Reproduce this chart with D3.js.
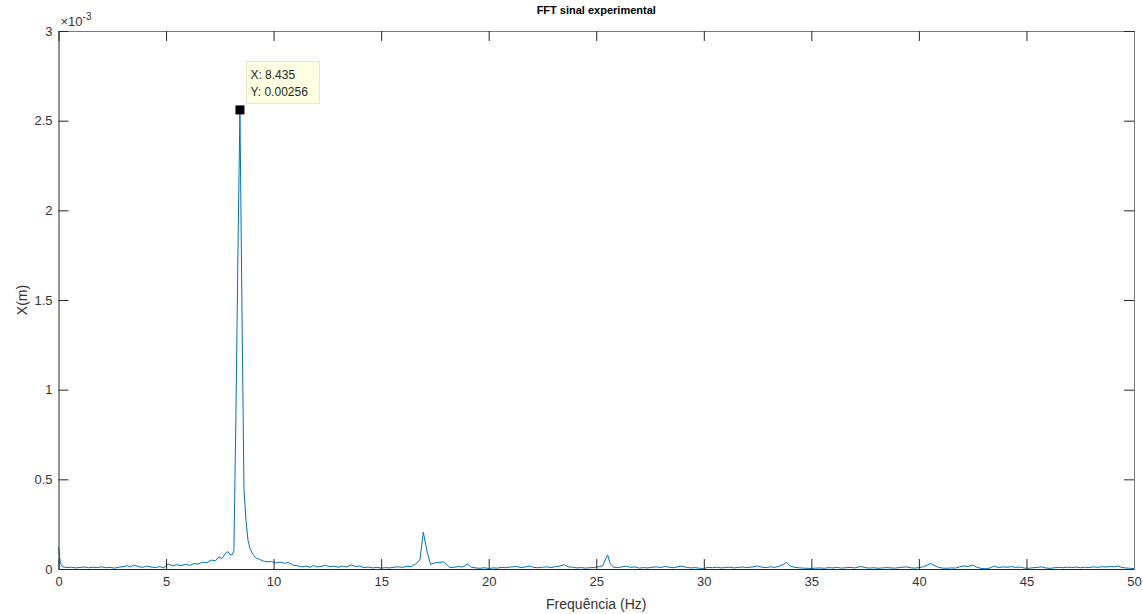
<!DOCTYPE html>
<html>
<head>
<meta charset="utf-8">
<script src="https://cdn.jsdelivr.net/npm/d3@7"></script>
<style>
  body { margin: 0; background: #fff; }
  svg { display: block; font-family: "Liberation Sans", Arial, sans-serif; }
</style>
</head>
<body>
<svg id="chart" width="1143" height="614"></svg>
<script>
// frequency (Hz) and amplitude (x 1e-3 m)
var freq = [0, 0.09, 0.19, 0.4, 0.6, 0.8, 1.0, 1.2, 1.4, 1.6, 1.8, 2.0, 2.2, 2.4, 2.6, 2.8, 3.0, 3.2, 3.35, 3.5, 3.7, 3.9,
  4.1, 4.3, 4.5, 4.7, 4.9, 5.1, 5.3, 5.5, 5.7, 5.9, 6.1, 6.3, 6.5, 6.7, 6.9, 7.1, 7.3, 7.45, 7.6, 7.75, 7.88, 7.97,
  8.06, 8.154, 8.247, 8.341, 8.435, 8.529, 8.622, 8.716, 8.81, 8.9, 9.0, 9.1, 9.2, 9.35, 9.5, 9.7, 9.9, 10.1, 10.3,
  10.5, 10.7, 10.9, 11.1, 11.3, 11.5, 11.7, 11.85, 12.0, 12.2, 12.4, 12.6, 12.8, 13.0, 13.2, 13.4, 13.6, 13.8, 14.0,
  14.2, 14.4, 14.6, 14.8, 15.0, 15.2, 15.4, 15.6, 15.8, 16.0, 16.2, 16.4, 16.6, 16.8, 16.96, 17.15, 17.3, 17.5, 17.7,
  17.9, 18.05, 18.2, 18.4, 18.6, 18.8, 19.0, 19.2, 19.4, 19.6, 19.8, 20.0, 20.2, 20.4, 20.6, 20.8, 21.0, 21.3, 21.5,
  21.7, 21.9, 22.1, 22.3, 22.5, 22.7, 22.9, 23.1, 23.3, 23.5, 23.7, 23.9, 24.1, 24.3, 24.5, 24.7, 24.9, 25.1, 25.3,
  25.45, 25.53, 25.65, 25.8, 26.0, 26.2, 26.4, 26.6, 26.8, 27.0, 27.2, 27.4, 27.6, 27.8, 28.0, 28.2, 28.4, 28.6,
  28.8, 29.0, 29.2, 29.4, 29.6, 29.8, 30.0, 30.2, 30.4, 30.6, 30.8, 31.0, 31.2, 31.4, 31.6, 31.8, 32.0, 32.3, 32.5,
  32.7, 32.9, 33.1, 33.3, 33.5, 33.7, 33.85, 34.0, 34.2, 34.4, 34.6, 34.8, 35.0, 35.2, 35.4, 35.6, 35.8, 36.0, 36.2,
  36.4, 36.6, 36.8, 37.0, 37.3, 37.5, 37.7, 37.9, 38.1, 38.3, 38.5, 38.7, 38.9, 39.1, 39.4, 39.6, 39.8, 40.0, 40.2,
  40.4, 40.55, 40.7, 40.9, 41.1, 41.3, 41.5, 41.7, 41.9, 42.1, 42.3, 42.5, 42.7, 42.9, 43.1, 43.3, 43.5, 43.7, 43.9,
  44.1, 44.3, 44.5, 44.7, 44.9, 45.1, 45.3, 45.5, 45.7, 45.9, 46.1, 46.3, 46.5, 46.7, 46.9, 47.1, 47.3, 47.5, 47.7,
  47.9, 48.1, 48.3, 48.5, 48.7, 48.9, 49.1, 49.25, 49.4, 49.6, 49.8, 50.0];
var amp = [0.12, 0.03, 0.012, 0.008, 0.01, 0.006, 0.009, 0.011, 0.007, 0.01, 0.008, 0.012, 0.007, 0.009, 0.005, 0.01,
  0.013, 0.018, 0.012, 0.022, 0.014, 0.009, 0.016, 0.011, 0.008, 0.013, 0.007, 0.028, 0.018, 0.024, 0.019, 0.026,
  0.02, 0.03, 0.028, 0.038, 0.035, 0.05, 0.045, 0.068, 0.058, 0.085, 0.097, 0.082, 0.078, 0.10, 0.85, 1.75, 2.56,
  1.45, 0.45, 0.27, 0.16, 0.115, 0.09, 0.072, 0.06, 0.054, 0.045, 0.04, 0.042, 0.034, 0.038, 0.032, 0.036, 0.022,
  0.018, 0.012, 0.016, 0.01, 0.02, 0.012, 0.014, 0.021, 0.013, 0.016, 0.01, 0.016, 0.012, 0.023, 0.014, 0.017,
  0.008, 0.011, 0.006, 0.009, 0.005, 0.008, 0.006, 0.01, 0.012, 0.009, 0.015, 0.013, 0.028, 0.05, 0.205, 0.09,
  0.026, 0.034, 0.036, 0.04, 0.025, 0.008, 0.01, 0.014, 0.011, 0.028, 0.01, 0.006, 0.004, 0.007, 0.003, 0.006,
  0.005, 0.009, 0.007, 0.011, 0.014, 0.008, 0.011, 0.016, 0.009, 0.007, 0.01, 0.012, 0.008, 0.013, 0.016, 0.024,
  0.012, 0.01, 0.006, 0.008, 0.005, 0.007, 0.009, 0.012, 0.018, 0.06, 0.078, 0.03, 0.01, 0.008, 0.012, 0.016,
  0.009, 0.012, 0.005, 0.008, 0.006, 0.01, 0.012, 0.008, 0.014, 0.01, 0.007, 0.013, 0.016, 0.009, 0.006, 0.008,
  0.004, 0.003, 0.009, 0.007, 0.01, 0.006, 0.008, 0.01, 0.006, 0.009, 0.011, 0.008, 0.012, 0.017, 0.01, 0.008,
  0.012, 0.009, 0.015, 0.026, 0.037, 0.018, 0.01, 0.007, 0.005, 0.004, 0.003, 0.005, 0.006, 0.004, 0.008, 0.006,
  0.009, 0.005, 0.007, 0.009, 0.006, 0.014, 0.008, 0.005, 0.007, 0.004, 0.006, 0.008, 0.006, 0.005, 0.008, 0.012,
  0.007, 0.005, 0.008, 0.012, 0.022, 0.031, 0.02, 0.01, 0.005, 0.004, 0.006, 0.005, 0.012, 0.017, 0.014, 0.022,
  0.01, 0.003, 0.002, 0.005, 0.016, 0.008, 0.012, 0.01, 0.013, 0.009, 0.011, 0.005, 0.004, 0.007, 0.009, 0.012,
  0.006, 0.003, 0.007, 0.009, 0.007, 0.01, 0.008, 0.011, 0.007, 0.01, 0.008, 0.012, 0.009, 0.013, 0.011, 0.015,
  0.012, 0.017, 0.01, 0.006, 0.004, 0.002];
var ampScale = 1e-3;

var xTicks = [0, 5, 10, 15, 20, 25, 30, 35, 40, 45, 50];
var yTicks = [0, 0.5, 1, 1.5, 2, 2.5, 3];

var tip = { x: 8.435, y: 0.00256 };

var svg = d3.select("#chart"),
    margin = { top: 31, right: 9, bottom: 45, left: 58.5 },
    width = 1143 - margin.left - margin.right,
    height = 614 - margin.top - margin.bottom;

var x = d3.scaleLinear().domain([0, 50]).range([0, width]);
var y = d3.scaleLinear().domain([0, 3 * ampScale]).range([height, 0]);

var g = svg.append("g").attr("transform", "translate(" + margin.left + "," + margin.top + ")");

var data = freq.map(function(f, i) { return { f: f, v: amp[i] * ampScale }; });

var line = d3.line()
    .x(function(d) { return x(d.f); })
    .y(function(d) { return y(d.v); });

g.append("path")
    .datum(data)
    .attr("fill", "none")
    .attr("stroke", "#0072BD")
    .attr("stroke-width", 1)
    .attr("d", line);

// axes, MATLAB style ticks pointing inward
function styleAxis(sel, col) {
  sel.select(".domain").attr("stroke", col);
  sel.selectAll(".tick line").attr("stroke", "#262626");
  sel.selectAll(".tick text").attr("fill", "#333").style("font-size", "13px");
  sel.attr("font-family", null);
}

g.append("g")
    .attr("transform", "translate(0," + height + ")")
    .call(d3.axisBottom(x).tickValues(xTicks).tickSizeInner(-10).tickSizeOuter(0).tickPadding(8))
    .call(styleAxis, "#262626");

g.append("g")
    .call(d3.axisTop(x).tickValues(xTicks).tickSizeInner(-10).tickSizeOuter(0).tickFormat(""))
    .call(styleAxis, "#7a7a7a");

g.append("g")
    .call(d3.axisLeft(y).tickValues(yTicks.map(function(t) { return t * ampScale; }))
      .tickSizeInner(-10).tickSizeOuter(0).tickPadding(6)
      .tickFormat(function(d) { return d3.format("")(+(d / ampScale).toFixed(1)); }))
    .call(styleAxis, "#262626");

g.append("g")
    .attr("transform", "translate(" + width + ",0)")
    .call(d3.axisRight(y).tickValues(yTicks.map(function(t) { return t * ampScale; }))
      .tickSizeInner(-10).tickSizeOuter(0).tickFormat(""))
    .call(styleAxis, "#7a7a7a");

// exponent label
var expo = svg.append("text")
    .attr("x", margin.left + 2)
    .attr("y", margin.top - 5)
    .attr("fill", "#333")
    .style("font-size", "13px");
expo.append("tspan").text("\u00d710");
expo.append("tspan").attr("dy", -6).style("font-size", "10px").text("-3");

// titles
svg.append("text")
    .attr("x", margin.left + width / 2)
    .attr("y", 14)
    .attr("text-anchor", "middle")
    .attr("fill", "#000")
    .style("font-size", "11px")
    .style("font-weight", "bold")
    .text("FFT sinal experimental");

svg.append("text")
    .attr("x", margin.left + width / 2)
    .attr("y", 609)
    .attr("text-anchor", "middle")
    .attr("fill", "#333")
    .style("font-size", "14px")
    .text("Frequência (Hz)");

svg.append("text")
    .attr("transform", "translate(27," + (margin.top + height / 2) + ") rotate(-90)")
    .attr("text-anchor", "middle")
    .attr("fill", "#333")
    .style("font-size", "14px")
    .text("X(m)");

// data tip
var tx = x(tip.x), ty = y(tip.y);
g.append("rect")
    .attr("x", tx - 4.5).attr("y", ty - 4.5)
    .attr("width", 9).attr("height", 9)
    .attr("fill", "#000");

var box = g.append("g").attr("transform", "translate(" + (tx + 6.5) + "," + (ty - 48.5) + ")");
box.append("rect")
    .attr("width", 73).attr("height", 42)
    .attr("fill", "#ffffe1")
    .attr("stroke", "#e4e4d0");
box.append("text").attr("x", 4).attr("y", 18)
    .attr("fill", "#262626").style("font-size", "12px")
    .text("X: " + tip.x);
box.append("text").attr("x", 4).attr("y", 35)
    .attr("fill", "#262626").style("font-size", "12px")
    .text("Y: " + tip.y);
</script>
</body>
</html>
